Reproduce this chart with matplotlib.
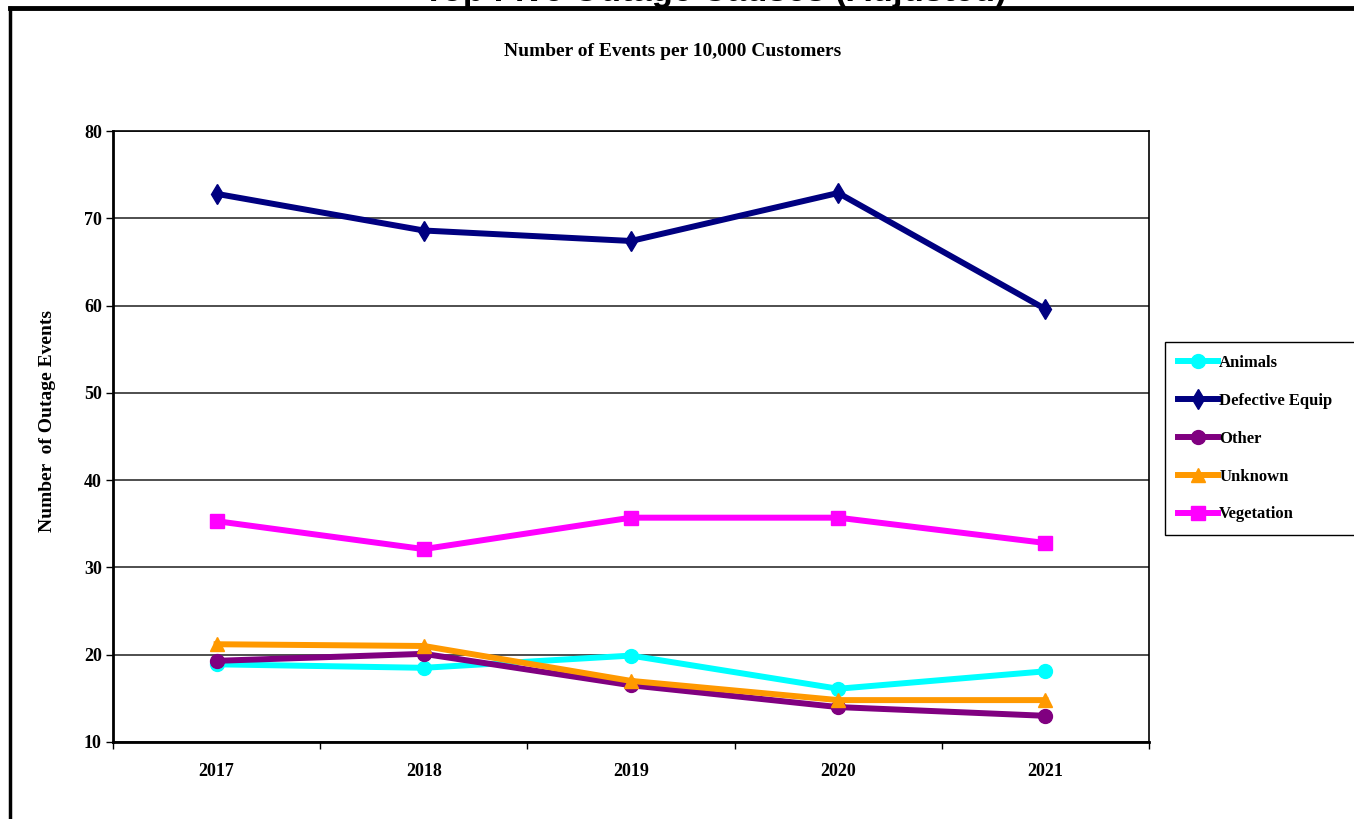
import matplotlib
matplotlib.use("Agg")
import matplotlib.pyplot as plt
from matplotlib.lines import Line2D
import numpy as np

years = ["2017", "2018", "2019", "2020", "2021"]
animals = [18.9, 18.5, 19.9, 16.1, 18.1]
defective_equip = [72.8, 68.6, 67.4, 72.9, 59.6]
other = [19.3, 20.1, 16.5, 14.0, 13.0]
unknown = [21.2, 21.0, 17.0, 14.8, 14.8]
vegetation = [35.3, 32.1, 35.7, 35.7, 32.8]

series = [
    ("Animals", animals, "#00FFFF", "o"),
    ("Defective Equip", defective_equip, "#000080", "d"),
    ("Other", other, "#800080", "o"),
    ("Unknown", unknown, "#FF9900", "^"),
    ("Vegetation", vegetation, "#FF00FF", "s"),
]

serif = ["Liberation Serif", "DejaVu Serif"]
W, H = 1354, 819

fig = plt.figure(figsize=(W / 100, H / 100), dpi=100)
ax = fig.add_axes([113 / W, (H - 742) / H, (1149 - 113) / W, (742 - 131) / H])

x = np.arange(len(years))
for name, vals, col, mk in series:
    ax.plot(x, vals, color=col, lw=4.3, marker=mk, markersize=10,
            markeredgecolor=col, label=name, zorder=3)

ax.set_xlim(-0.5, len(years) - 0.5)
ax.set_ylim(10, 80)
ax.set_yticks(range(10, 81, 10))
ax.set_xticks(np.arange(-0.5, len(years), 1.0))
ax.set_xticklabels([])
ax.set_xticks(x, minor=True)
ax.set_xticklabels(years, minor=True)
ax.tick_params(axis="x", which="minor", length=0, pad=15)
ax.tick_params(axis="x", which="major", length=5, width=1, direction="out")
ax.tick_params(axis="y", length=5, width=1, direction="out", pad=3)
for lab in ax.get_yticklabels() + ax.get_xticklabels(minor=True):
    lab.set_fontfamily(serif)
    lab.set_fontweight("bold")
    lab.set_fontsize(13)

ax.grid(axis="y", color="#303030", lw=1.2)
ax.set_axisbelow(True)
for side in ["left", "bottom"]:
    ax.spines[side].set_linewidth(2)
for side in ["top", "right"]:
    ax.spines[side].set_linewidth(1.2)

ax.set_ylabel("Number  of Outage Events", fontfamily=serif, fontweight="bold",
              fontsize=14)
ax.yaxis.set_label_coords(-0.055, 0.525)

fig.text(673 / W, 1 - 52 / H, "Number of Events per 10,000 Customers", ha="center",
         va="center", fontfamily=serif, fontweight="bold", fontsize=14)

# heading that runs off the top edge
fig.text(715 / W, 1 - 1 / H, "Top Five Outage Causes (Adjusted)", ha="center",
         va="baseline", fontfamily=["Liberation Sans", "DejaVu Sans"],
         fontweight="bold", fontsize=25)

# outer frame
fig.add_artist(Line2D([10 / W, 1], [1 - 8 / H, 1 - 8 / H], color="black", lw=3.5,
                      transform=fig.transFigure))
fig.add_artist(Line2D([10 / W, 10 / W], [0, 1 - 8 / H], color="black", lw=2.5,
                      transform=fig.transFigure))

handles, labels = ax.get_legend_handles_labels()
leg = fig.legend(handles, labels, loc="upper left",
                 bbox_to_anchor=(1165 / W, 1 - 342 / H, 230 / W, 0),
                 mode="expand", frameon=True, fancybox=False, framealpha=1,
                 edgecolor="black", handlelength=2.4, handletextpad=0.1,
                 labelspacing=1.32, borderpad=0.75, borderaxespad=0,
                 prop={"family": serif, "weight": "bold", "size": 12})
leg.get_frame().set_linewidth(1)

fig.savefig("out.png", dpi=100, facecolor="white")
